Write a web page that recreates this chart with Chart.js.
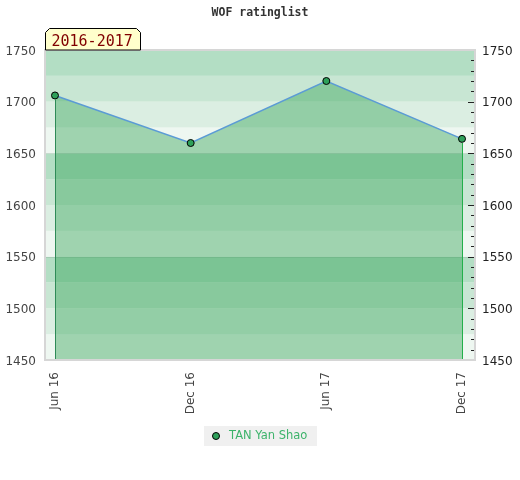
<!DOCTYPE html>
<html>
<head>
<meta charset="utf-8">
<script src="https://cdn.jsdelivr.net/npm/chart.js@4/dist/chart.umd.min.js"></script>
<style>
  html, body { margin: 0; padding: 0; background: #fff; }
  #wrap { width: 520px; height: 480px; }
</style>
</head>
<body>
<div id="wrap"><canvas id="rating-chart" width="520" height="480"></canvas></div>
<script>
// chart data
const periodLabels = ['Jun 16', 'Dec 16', 'Jun 17', 'Dec 17'];
const ratingValues = [1706, 1660, 1720, 1664];
const playerName = 'TAN Yan Shao';
const yearTag = '2016-2017';
const yMin = 1450;
const yMax = 1750;
const bandColors = ['#eef7f1', '#dbeee2', '#c8e6d3', '#b3dec4'];

const extras = {
    id: 'extras',
    beforeDatasetsDraw(chart) {
        const { ctx, chartArea: a, scales: { y } } = chart;
        ctx.save();
        for (let v = yMin, i = 0; v < yMax; v += 25, i++) {
            const top = y.getPixelForValue(v + 25);
            const bottom = y.getPixelForValue(v);
            ctx.fillStyle = bandColors[i % 4];
            ctx.fillRect(a.left, top, a.right - a.left, bottom - top);
        }
        ctx.strokeStyle = 'rgba(0,0,0,0.08)';
        ctx.lineWidth = 1;
        [1550, 1650].forEach(v => {
            const py = Math.round(y.getPixelForValue(v)) + 0.5;
            ctx.beginPath();
            ctx.moveTo(a.left, py);
            ctx.lineTo(a.right, py);
            ctx.stroke();
        });
        ctx.restore();
    },
    afterDatasetsDraw(chart) {
        const { ctx, chartArea: a, scales: { x, y } } = chart;
        ctx.save();
        // drop lines at first / last point
        const drops = [[0, '#2e8b57'], [ratingValues.length - 1, '#22b04a']];
        drops.forEach(([i, col]) => {
            const px = Math.round(x.getPixelForValue(i)) + 0.5;
            ctx.strokeStyle = col;
            ctx.lineWidth = 1;
            ctx.beginPath();
            ctx.moveTo(px, y.getPixelForValue(ratingValues[i]) + 4);
            ctx.lineTo(px, a.bottom);
            ctx.stroke();
        });
        // minor ticks on right edge
        ctx.strokeStyle = '#222';
        for (let v = yMin + 10; v < yMax; v += 10) {
            const py = Math.round(y.getPixelForValue(v)) + 0.5;
            const len = v % 50 === 0 ? 6 : 3;
            ctx.beginPath();
            ctx.moveTo(a.right - len - 1, py);
            ctx.lineTo(a.right - 1, py);
            ctx.stroke();
        }
        // plot border
        ctx.strokeStyle = '#d6d6d6';
        ctx.lineWidth = 2;
        ctx.strokeRect(a.left, a.top, a.right - a.left, a.bottom - a.top);
        ctx.restore();
    },
    afterDraw(chart) {
        const { ctx, chartArea: a } = chart;
        ctx.save();
        // title
        ctx.fillStyle = '#333';
        ctx.font = 'bold 11.5px "DejaVu Sans Mono", monospace';
        ctx.textAlign = 'center';
        ctx.textBaseline = 'middle';
        ctx.fillText('WOF ratinglist', 260, 13);

        // year tag
        const l = a.left + 0.5, r = a.left + 95.5, t = 28.5, b = a.top;
        ctx.beginPath();
        ctx.moveTo(l, b);
        ctx.lineTo(l, t + 4);
        ctx.lineTo(l + 4, t);
        ctx.lineTo(r - 4, t);
        ctx.lineTo(r, t + 4);
        ctx.lineTo(r, b);
        ctx.closePath();
        ctx.fillStyle = '#ffffcc';
        ctx.fill();
        ctx.strokeStyle = '#000';
        ctx.lineWidth = 1;
        ctx.stroke();
        ctx.fillStyle = '#800000';
        ctx.font = '15px "DejaVu Sans Mono", monospace';
        ctx.textAlign = 'left';
        ctx.textBaseline = 'alphabetic';
        ctx.fillText(yearTag, l + 6, 45.5);

        // legend
        ctx.fillStyle = '#f0f0f0';
        ctx.fillRect(204, 426, 113, 20);
        ctx.beginPath();
        ctx.arc(216, 436, 3.5, 0, Math.PI * 2);
        ctx.fillStyle = '#2ea05a';
        ctx.fill();
        ctx.strokeStyle = '#000';
        ctx.stroke();
        ctx.fillStyle = '#3cb36a';
        ctx.font = '11.5px "DejaVu Sans", sans-serif';
        ctx.textBaseline = 'middle';
        ctx.fillText(playerName, 229, 436.5);
        ctx.restore();
    }
};

const xPad = { min: -0.0737, max: 3.0958 };

new Chart(document.getElementById('rating-chart').getContext('2d'), {
    type: 'line',
    data: {
        datasets: [{
            label: playerName,
            data: ratingValues.map((v, i) => ({ x: i, y: v })),
            borderColor: '#5b9bd5',
            borderWidth: 1.5,
            backgroundColor: 'rgba(39,157,78,0.4)',
            fill: 'start',
            tension: 0,
            pointRadius: 3.5,
            pointHoverRadius: 3.5,
            pointBackgroundColor: '#2ea05a',
            pointBorderColor: '#000',
            pointBorderWidth: 1
        }]
    },
    options: {
        responsive: false,
        animation: false,
        layout: { padding: { top: 50, bottom: 0, left: 0, right: 0 } },
        plugins: {
            legend: { display: false },
            title: { display: false },
            tooltip: { enabled: false }
        },
        scales: {
            x: {
                type: 'linear',
                min: xPad.min,
                max: xPad.max,
                grid: { display: false, drawTicks: false },
                border: { display: false },
                afterBuildTicks: s => { s.ticks = periodLabels.map((_, i) => ({ value: i })); },
                afterFit: s => { s.height = 120; },
                ticks: {
                    minRotation: 90,
                    maxRotation: 90,
                    padding: 12,
                    color: '#444',
                    font: { family: 'DejaVu Sans', size: 12 },
                    callback: v => periodLabels[v]
                }
            },
            y: {
                min: yMin,
                max: yMax,
                position: 'left',
                grid: { display: false, drawTicks: false },
                border: { display: false },
                afterFit: s => { s.width = 45; },
                ticks: {
                    stepSize: 50,
                    padding: 9,
                    labelOffset: 1.5,
                    color: '#444',
                    font: { family: 'DejaVu Sans', size: 12 },
                    callback: v => String(v)
                }
            },
            y2: {
                min: yMin,
                max: yMax,
                position: 'right',
                grid: { display: false, drawTicks: false },
                border: { display: false },
                afterFit: s => { s.width = 45; },
                ticks: {
                    stepSize: 50,
                    padding: 7,
                    labelOffset: 1.5,
                    color: '#222',
                    font: { family: 'DejaVu Sans', size: 12 },
                    callback: v => String(v)
                }
            }
        }
    },
    plugins: [extras]
});
</script>
</body>
</html>
